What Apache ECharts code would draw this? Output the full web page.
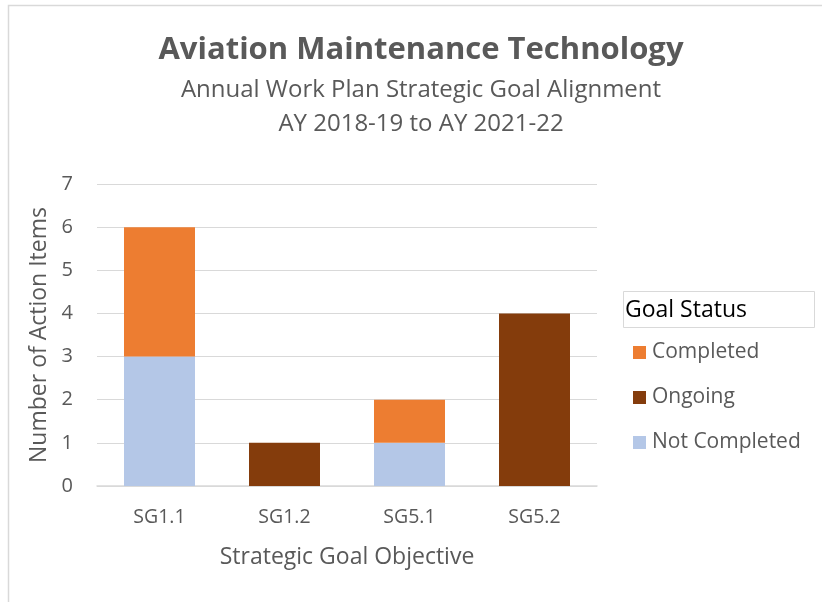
<!DOCTYPE html>
<html>
<head>
<meta charset="utf-8">
<script src="https://cdn.jsdelivr.net/npm/echarts@6/dist/echarts.min.js"></script>
<style>
html,body{margin:0;padding:0;background:#fff;}
#chart-area{width:822px;height:602px;}
</style>
</head>
<body>
<div id="chart-area"></div>
<script>
var categories = ['SG1.1', 'SG1.2', 'SG5.1', 'SG5.2'];
var notCompleted = [3, 0, 1, 0];
var ongoing = [0, 1, 0, 4];
var completed = [3, 0, 1, 0];
var yTicks = [0, 1, 2, 3, 4, 5, 6, 7];

var font = '"Open Sans", "Noto Sans", sans-serif';
var grey = '#595959';

var myChart = echarts.init(document.getElementById('chart-area'));
var option = {
	backgroundColor: '#fff',
	animation: false,
	graphic: [
		{
			type: 'rect',
			shape: {x: 8.5, y: 5.5, width: 830, height: 620},
			style: {fill: 'none', stroke: '#d9d9d9', lineWidth: 1.5}
		},
		// titles
		{
			type: 'text', x: 421, y: 50,
			style: {text: 'Aviation Maintenance Technology', fontFamily: font, fontSize: 31, fontWeight: 'bold',
				fill: grey, align: 'center', verticalAlign: 'middle'}
		},
		{
			type: 'text', x: 421, y: 90,
			style: {text: 'Annual Work Plan Strategic Goal Alignment', fontFamily: font, fontSize: 24,
				fill: grey, align: 'center', verticalAlign: 'middle'}
		},
		{
			type: 'text', x: 421, y: 124,
			style: {text: 'AY 2018-19 to AY 2021-22', fontFamily: font, fontSize: 24,
				fill: grey, align: 'center', verticalAlign: 'middle'}
		},
		// legend title box
		{
			type: 'rect',
			shape: {x: 623.5, y: 291.5, width: 191, height: 36},
			style: {fill: '#fff', stroke: '#d9d9d9', lineWidth: 1}
		},
		{
			type: 'text',
			x: 625, y: 310,
			style: {text: 'Goal Status', fontFamily: font, fontSize: 23, fill: '#000', verticalAlign: 'middle'}
		}
	],
	legend: {
		orient: 'vertical',
		left: 628, top: 337,
		itemWidth: 13, itemHeight: 13,
		itemGap: 24,
		icon: 'rect',
		data: ['Completed', 'Ongoing', 'Not Completed'],
		textStyle: {fontFamily: font, fontSize: 21, color: grey, padding: [0, 0, 0, 1]}
	},
	grid: {left: 97, right: 225, top: 184, bottom: 116},
	xAxis: {
		type: 'category',
		data: categories,
		name: 'Strategic Goal Objective',
		nameLocation: 'middle',
		nameGap: 60,
		nameTextStyle: {fontFamily: font, fontSize: 23, color: grey},
		axisLine: {lineStyle: {color: '#d9d9d9', width: 1.5}},
		axisTick: {show: false},
		axisLabel: {fontFamily: font, fontSize: 19.5, color: grey, margin: 21}
	},
	yAxis: {
		type: 'value',
		min: 0, max: yTicks[yTicks.length - 1], interval: 1,
		name: 'Number of Action Items',
		nameLocation: 'middle',
		nameGap: 46,
		nameTextStyle: {fontFamily: font, fontSize: 23, color: grey},
		axisLine: {show: false},
		axisTick: {show: false},
		axisLabel: {fontFamily: font, fontSize: 20, color: grey, margin: 24},
		splitLine: {lineStyle: {color: '#d9d9d9', width: 1}}
	},
	series: [
		{
			name: 'Not Completed', type: 'bar', stack: 'total',
			barWidth: 71,
			itemStyle: {color: '#b4c7e7'},
			data: notCompleted
		},
		{
			name: 'Ongoing', type: 'bar', stack: 'total',
			barWidth: 71,
			itemStyle: {color: '#843c0c'},
			data: ongoing
		},
		{
			name: 'Completed', type: 'bar', stack: 'total',
			barWidth: 71,
			itemStyle: {color: '#ed7d31'},
			data: completed
		}
	]
};
myChart.setOption(option);
</script>
</body>
</html>
